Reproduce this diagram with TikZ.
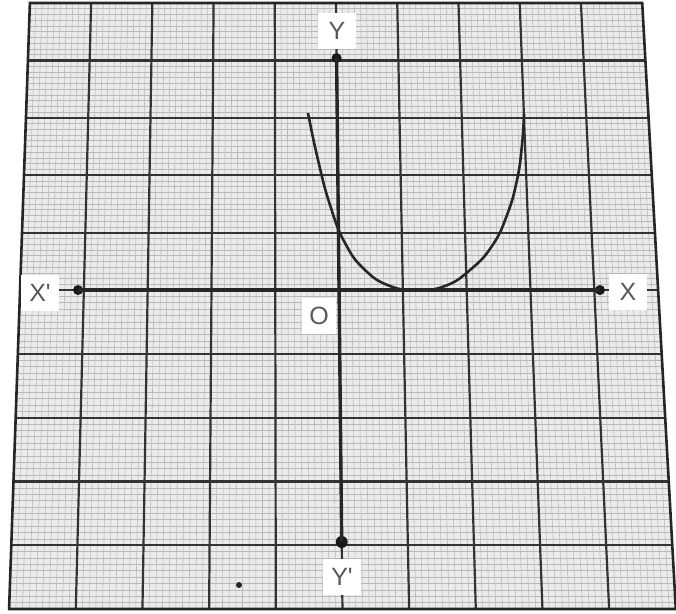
\documentclass[tikz,border=0pt]{standalone}
\usepackage{fontspec}
\setmainfont{Liberation Sans}
\begin{document}
\begin{tikzpicture}[x=1pt,y=-1pt,
  minorline/.style={line width=0.55pt, draw=gray!55},
  majorline/.style={line width=2.2pt, draw=black!80},
  borderline/.style={line width=2.6pt, draw=black!85},
  axisline/.style={line width=3.4pt, draw=black!85},
  curveline/.style={line width=2.6pt, draw=black!85},
  lbl/.style={fill=white, text=black!65, font=\fontsize{25}{25}\selectfont, minimum width=38pt, minimum height=36pt, inner sep=0pt},
  enddot/.style={circle, fill=black!90, inner sep=0pt, minimum size=10pt}]
\useasboundingbox (0,0) rectangle (676,613);
\fill[white] (0,0) rectangle (676,613);
% paper
\fill[gray!16] (29.9,3) -- (642.2,3) -- (675.8,609) -- (9.1,609) -- cycle;
% minor grid
\foreach \i in {-50,...,50}{
  \pgfmathsetmacro\u{\i/10}
  \pgfmathsetmacro\xa{336+61.2*\u+(6.5+5.5*\u)*0.0049}
  \pgfmathsetmacro\xb{336+61.2*\u+(6.5+5.5*\u)*0.9935}
  \draw[minorline] (\xa,3) -- (\xb,609);
  \pgfmathsetmacro\yy{\u<0 ? 290+57.4*\u : 290+63.8*\u}
  \pgfmathsetmacro\xl{30-0.03426*\yy}
  \pgfmathsetmacro\xr{642+0.05546*\yy}
  \draw[minorline] (\xl,\yy) -- (\xr,\yy);
}
% major grid
\foreach \i in {-4,...,4}{
  \pgfmathsetmacro\xa{336+61.2*\i+(6.5+5.5*\i)*0.0049}
  \pgfmathsetmacro\xb{336+61.2*\i+(6.5+5.5*\i)*0.9935}
  \draw[majorline] (\xa,3) -- (\xb,609);
  \pgfmathsetmacro\yy{\i<0 ? 290+57.4*\i : 290+63.8*\i}
  \pgfmathsetmacro\xl{30-0.03426*\yy}
  \pgfmathsetmacro\xr{642+0.05546*\yy}
  \draw[majorline] (\xl,\yy) -- (\xr,\yy);
}
% border
\draw[borderline, line join=miter] (29.9,3) -- (642.2,3) -- (675.8,609) -- (9.1,609) -- cycle;
% axes
\node[enddot] (dxl) at (78,290) {};
\node[enddot] (dxr) at (600,290) {};
\node[enddot] (dyt) at (336.6,58) {};
\node[enddot, minimum size=12pt] (dyb) at (341.7,542) {};
\draw[axisline] (dxl.center) -- (dxr.center);
\draw[axisline] (dyt.center) -- (dyb.center);
% curve
\draw[curveline] plot[smooth, tension=0.8] coordinates {(308,113) (318,160) (330,205) (345,243) (365,270) (390,286) (417,290) (445,286) (470,270) (492,246) (507,215) (517,180) (522,145) (524,114)};
% labels
\node[lbl] (lX) at (628,292) {X};
\node[lbl] (lXp) at (40,293) {X\textquotesingle};
\node[lbl] (lY) at (337,31) {Y};
\node[lbl] (lYp) at (342,577) {Y\textquotesingle};
\node[lbl, minimum width=34pt] (lO) at (319,316) {O};
% speck
\fill[black!85] (239,585) circle (3pt);
\end{tikzpicture}
\end{document}
